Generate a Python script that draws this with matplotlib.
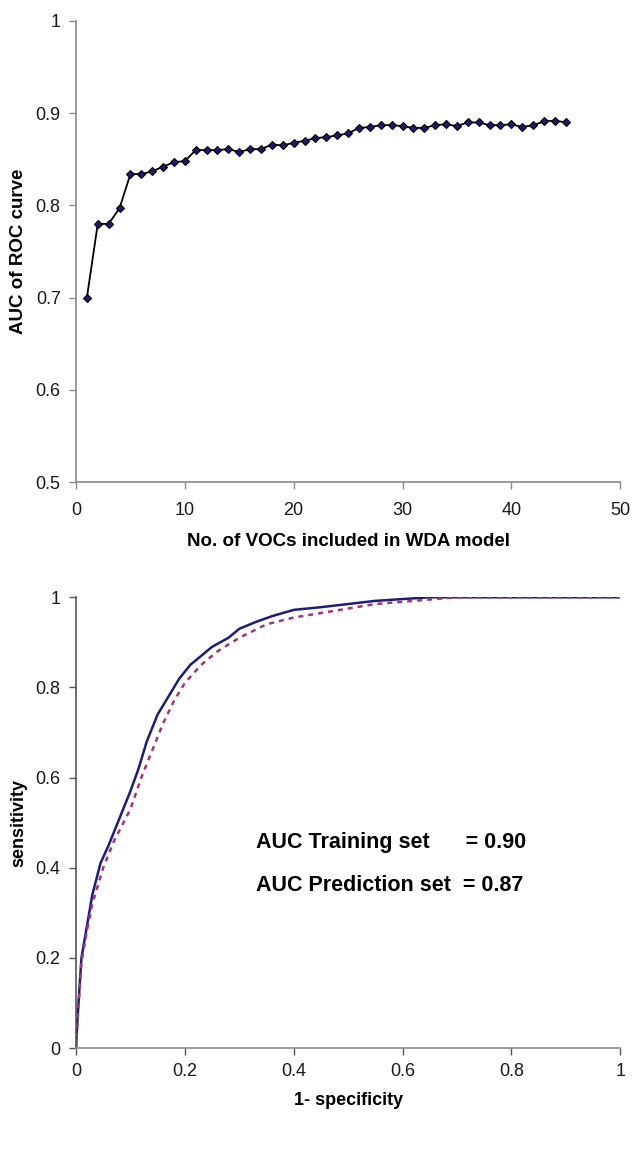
import matplotlib
matplotlib.use("Agg")
import matplotlib.pyplot as plt
from matplotlib.ticker import FuncFormatter

plt.rcParams["font.family"] = ["Liberation Sans", "DejaVu Sans"]

# ---- top panel: AUC vs number of VOCs in the WDA model ----
N_VOCS = list(range(1, 46))
AUC_BY_N = [
    0.700, 0.780, 0.780, 0.797, 0.834, 0.834, 0.837, 0.842, 0.847, 0.848,
    0.860, 0.860, 0.860, 0.861, 0.858, 0.861, 0.861, 0.866, 0.865, 0.868,
    0.870, 0.873, 0.874, 0.876, 0.878, 0.884, 0.885, 0.887, 0.887, 0.886,
    0.884, 0.884, 0.887, 0.888, 0.886, 0.890, 0.890, 0.887, 0.887, 0.888,
    0.885, 0.887, 0.891, 0.892, 0.890,
]

# ---- bottom panel: ROC curves ----
TRAIN_FPR = [0, 0.003, 0.01, 0.02, 0.03, 0.045, 0.06, 0.08, 0.10, 0.115,
             0.13, 0.15, 0.17, 0.19, 0.21, 0.23, 0.25, 0.28, 0.30, 0.33,
             0.36, 0.40, 0.45, 0.50, 0.55, 0.60, 0.65, 1.0]
TRAIN_TPR = [0, 0.07, 0.20, 0.27, 0.34, 0.41, 0.45, 0.51, 0.57, 0.62,
             0.68, 0.74, 0.78, 0.82, 0.85, 0.87, 0.89, 0.91, 0.93, 0.945,
             0.958, 0.972, 0.978, 0.985, 0.992, 0.996, 1.0, 1.0]

PRED_FPR = [0, 0.005, 0.01, 0.02, 0.03, 0.05, 0.07, 0.10, 0.12, 0.14,
            0.16, 0.18, 0.20, 0.23, 0.26, 0.30, 0.35, 0.40, 0.45, 0.50,
            0.55, 0.60, 0.65, 0.70, 1.0]
PRED_TPR = [0, 0.10, 0.19, 0.26, 0.32, 0.40, 0.46, 0.53, 0.60, 0.66,
            0.72, 0.77, 0.81, 0.85, 0.88, 0.91, 0.94, 0.955, 0.965, 0.975,
            0.985, 0.99, 0.995, 1.0, 1.0]

AUC_TRAIN = 0.90
AUC_PRED = 0.87

fmt = FuncFormatter(lambda v, p: f"{v:g}")
AX_GRAY = "#8a8a8a"


def style_axes(ax, spine_color):
    for s in ("top", "right"):
        ax.spines[s].set_visible(False)
    for s in ("left", "bottom"):
        ax.spines[s].set_color(spine_color)
        ax.spines[s].set_linewidth(1.2)
    ax.tick_params(direction="out", length=5, width=1, color=spine_color,
                   labelsize=13, labelcolor="#1a1a1a", pad=6)
    ax.xaxis.set_major_formatter(fmt)
    ax.yaxis.set_major_formatter(fmt)


fig = plt.figure(figsize=(6.44, 11.62), dpi=100)

# top
ax1 = fig.add_axes([0.118, 0.585, 0.845, 0.397])
ax1.plot(N_VOCS, AUC_BY_N, color="black", lw=1.3, marker="D", markersize=4.5,
         markerfacecolor="#1c1c6e", markeredgecolor="black", markeredgewidth=0.8)
ax1.set_xlim(0, 50)
ax1.set_ylim(0.5, 1.0)
ax1.set_xticks([0, 10, 20, 30, 40, 50])
ax1.set_yticks([0.5, 0.6, 0.7, 0.8, 0.9, 1.0])
style_axes(ax1, AX_GRAY)
ax1.tick_params(axis="x", pad=9)
ax1.set_xlabel("No. of VOCs included in WDA model", fontsize=13.5,
               fontweight="bold", labelpad=10)
ax1.set_ylabel("AUC of ROC curve", fontsize=13.5, fontweight="bold", labelpad=6)

# bottom
ax2 = fig.add_axes([0.118, 0.098, 0.845, 0.388])
ax2.plot(TRAIN_FPR, TRAIN_TPR, color="#1f1c78", lw=1.8)
ax2.plot(PRED_FPR, PRED_TPR, color="#a2337f", lw=1.8, linestyle=(0, (2, 2)))
ax2.set_xlim(0, 1)
ax2.set_ylim(0, 1)
ax2.set_xticks([0, 0.2, 0.4, 0.6, 0.8, 1.0])
ax2.set_yticks([0, 0.2, 0.4, 0.6, 0.8, 1.0])
style_axes(ax2, "#555555")
ax2.spines["bottom"].set_color(AX_GRAY)
ax2.set_xlabel("1- specificity", fontsize=13, fontweight="bold", labelpad=8)
ax2.set_ylabel("sensitivity", fontsize=13, fontweight="bold", labelpad=6)

ax2.text(0.33, 0.457, f"AUC Training set      = {AUC_TRAIN:.2f}",
         fontsize=15.5, fontweight="bold", va="center")
ax2.text(0.33, 0.36, f"AUC Prediction set  = {AUC_PRED:.2f}",
         fontsize=15.5, fontweight="bold", va="center")

fig.savefig("out.png", dpi=100, facecolor="white")
